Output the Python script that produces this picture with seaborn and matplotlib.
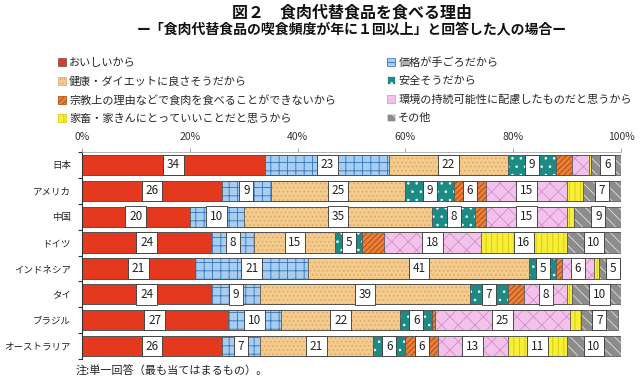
import numpy as np
import pandas as pd
import matplotlib
matplotlib.use("Agg")
import matplotlib.pyplot as plt
import seaborn as sns
from matplotlib.patches import Patch

sns.set_theme(style="white")
plt.rcParams['font.family'] = ['Noto Sans CJK JP', 'DejaVu Sans']
plt.rcParams['hatch.linewidth'] = 0.6

countries = ["日本", "アメリカ", "中国", "ドイツ", "インドネシア", "タイ", "ブラジル", "オーストラリア"]
reasons = ["おいしいから", "価格が手ごろだから", "健康・ダイエットに良さそうだから", "安全そうだから",
           "宗教上の理由などで食肉を食べることができないから", "環境の持続可能性に配慮したものだと思うから",
           "家畜・家きんにとっていいことだと思うから", "その他"]

tasty      = [34, 26, 20, 24, 21, 24, 27, 26]
price      = [23, 9, 10, 8, 21, 9, 10, 7]
health     = [22, 25, 35, 15, 41, 39, 22, 21]
safe       = [9, 9, 8, 5, 5, 7, 6, 6]
religion   = [3, 6, 2, 4, 1, 3, 0.5, 6]
environ    = [3, 15, 15, 18, 6, 8, 25, 13]
animal     = [0.5, 3, 1.3, 16, 1, 1, 2, 11]
other      = [6, 7, 9, 10, 5, 10, 7, 10]

series = [tasty, price, health, safe, religion, environ, animal, other]
faces   = ["#E5391F", "#A9CDEE", "#F4CB8C", "#1C8A85", "#E9803A", "#F2C2EA", "#F7EE38", "#8C8C8C"]
hcolors = ["#E5391F", "#2E74C0", "#D9A868", "#FFFFFF", "#A9440E", "#D88ACD", "#D6C800", "#E0E0E0"]
hatches = [None, "++", "....", "..", "//////", "xx", "|||", "\\\\\\"]

df = pd.DataFrame({"country": countries})
for r, v in zip(reasons, series):
    df[r] = v
cum = df[reasons].cumsum(axis=1)

fig = plt.figure(figsize=(6.4, 3.81), dpi=100)
ax = fig.add_axes([82/640, 1-359/381, (621-82)/640, (359-152)/381])

for i in range(len(reasons)-1, -1, -1):
    sns.barplot(x=cum[reasons[i]], y=df["country"], orient="h", ax=ax, color=faces[i],
                saturation=1, width=0.78, edgecolor=hcolors[i], linewidth=0,
                hatch=hatches[i])
for i in range(len(reasons)-1, -1, -1):
    sns.barplot(x=cum[reasons[i]], y=df["country"], orient="h", ax=ax, color="#555555",
                saturation=1, width=0.78, fill=False, linewidth=0.6)

for i, r in enumerate(reasons):
    for j in range(len(countries)):
        v = df[r].iloc[j]
        if v >= 5:
            xc = cum[r].iloc[j] - v/2
            ax.text(xc, j, f"{int(round(v))}", ha="center", va="center", fontsize=8.5,
                    color="#222222",
                    bbox=dict(boxstyle="square,pad=0.32", facecolor="white",
                              edgecolor="#333333", linewidth=0.6))

ax.set_xlim(0, 100)
ax.set_ylim(7.5, -0.5)
ax.xaxis.tick_top()
ax.set_xticks([0, 20, 40, 60, 80, 100])
ax.set_xticklabels([f"{t}%" for t in [0, 20, 40, 60, 80, 100]], fontsize=7.5, color="#333333")
ax.tick_params(axis="x", top=True, direction="out", length=3, width=0.6, color="#999999", pad=4)
ax.set_yticks(range(len(countries)))
ax.set_yticklabels(countries, fontsize=6.8, color="#222222")
ax.tick_params(axis="y", which="major", length=0, pad=8)
ax.set_yticks(np.arange(-0.5, 8, 1), minor=True)
ax.tick_params(axis="y", which="minor", left=True, length=3, width=0.8, color="#333333")
ax.set_xlabel("")
ax.set_ylabel("")
for s in ["right", "bottom"]:
    ax.spines[s].set_visible(False)
ax.spines["top"].set_color("#AAAAAA")
ax.spines["top"].set_linewidth(0.6)
ax.spines["left"].set_color("#333333")
ax.spines["left"].set_linewidth(0.8)

fig.text(352/640, 1-12/381, "図２　食肉代替食品を食べる理由", ha="center", va="center",
         fontsize=11.5, fontweight="bold", color="#111111")
fig.text(352/640, 1-29/381, "ー「食肉代替食品の喫食頻度が年に１回以上」と回答した人の場合ー",
         ha="center", va="center", fontsize=10, fontweight="bold", color="#111111")

handles = [Patch(facecolor=faces[i], edgecolor=hcolors[i] if hatches[i] else "#555555",
                 hatch=hatches[i], linewidth=0.5) for i in range(8)]
order = [0, 2, 4, 6, 1, 3, 5, 7]
leg = fig.legend([handles[k] for k in order], [reasons[k] for k in order], ncol=2,
                 loc="upper left", bbox_to_anchor=(58/640, 1-57/381), frameon=False,
                 fontsize=8, handlelength=0.7, handleheight=0.7, handletextpad=0.3,
                 labelspacing=0.75, columnspacing=4.6, borderaxespad=0, borderpad=0)

fig.text(76/640, 1-371/381, "注:単一回答（最も当てはまるもの）。", ha="left", va="center",
         fontsize=8, color="#222222")

fig.savefig("out.png", dpi=100)
